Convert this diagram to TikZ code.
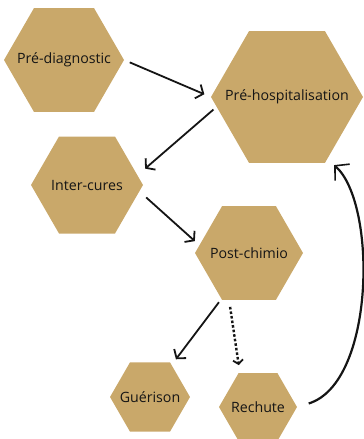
\documentclass[tikz,border=0pt]{standalone}
\usepackage{fontspec}
\setmainfont{Open Sans}
\usetikzlibrary{shapes.geometric, arrows.meta}
\definecolor{hexgold}{HTML}{C9A86A}
\definecolor{inkblack}{HTML}{151515}

\begin{document}
\begin{tikzpicture}[
    x=1pt, y=-1pt,
    hexa/.style={regular polygon, regular polygon sides=6, fill=hexgold, draw=none, inner sep=0pt, minimum size=#1},
    every label/.style={text=inkblack, font=\fontsize{14.2}{16}\selectfont, inner sep=0pt},
    arrow/.style={-{Straight Barb[length=6pt, width=15pt, line width=1.8pt]}, line width=1.8pt, inkblack},
    dotarrow/.style={-{Straight Barb[length=4pt, width=10pt, line width=1.8pt]}, line width=2.4pt, dash pattern=on 2.6pt off 2pt, inkblack},
    backarrow/.style={-{Straight Barb[length=10pt, width=22pt, line width=1.6pt]}, line width=2.2pt, inkblack}
]
\useasboundingbox (0,0) rectangle (364,439);

% Steps (hexagons)
\node[hexa=120, label=center:Pré-diagnostic] (prediag) at (64,60) {};
\node[hexa=152, label=center:Pré-hospitalisation] (prehosp) at (287,97) {};
\node[hexa=112, label=center:Inter-cures] (intercures) at (87,185) {};
\node[hexa=108, label=center:Post-chimio] (postchimio) at (249,253) {};
\node[hexa=80, label=center:Guérison] (guerison) at (150,397) {};
\node[hexa=78, label=center:Rechute] (rechute) at (258,407) {};

% Flow
\draw[arrow, shorten <=6pt, shorten >=7pt] (prediag.east) -- (prehosp.west);
\draw[arrow, shorten <=4pt, shorten >=10pt] (prehosp.188) -- (intercures.11);
\draw[arrow, shorten <=9pt, shorten >=6pt] (intercures.-7) -- (postchimio.171);
\draw[arrow, shorten <=4pt, shorten >=7pt] (postchimio.239) -- (guerison.56);
\draw[dotarrow, shorten <=7pt, shorten >=8pt] (postchimio.247) -- (rechute.118);

% Relapse goes back
\draw[backarrow, shorten <=12pt, shorten >=9pt] (rechute.east) .. controls +(78,-24) and +(50,44) .. (prehosp.-57);

\end{tikzpicture}
\end{document}
